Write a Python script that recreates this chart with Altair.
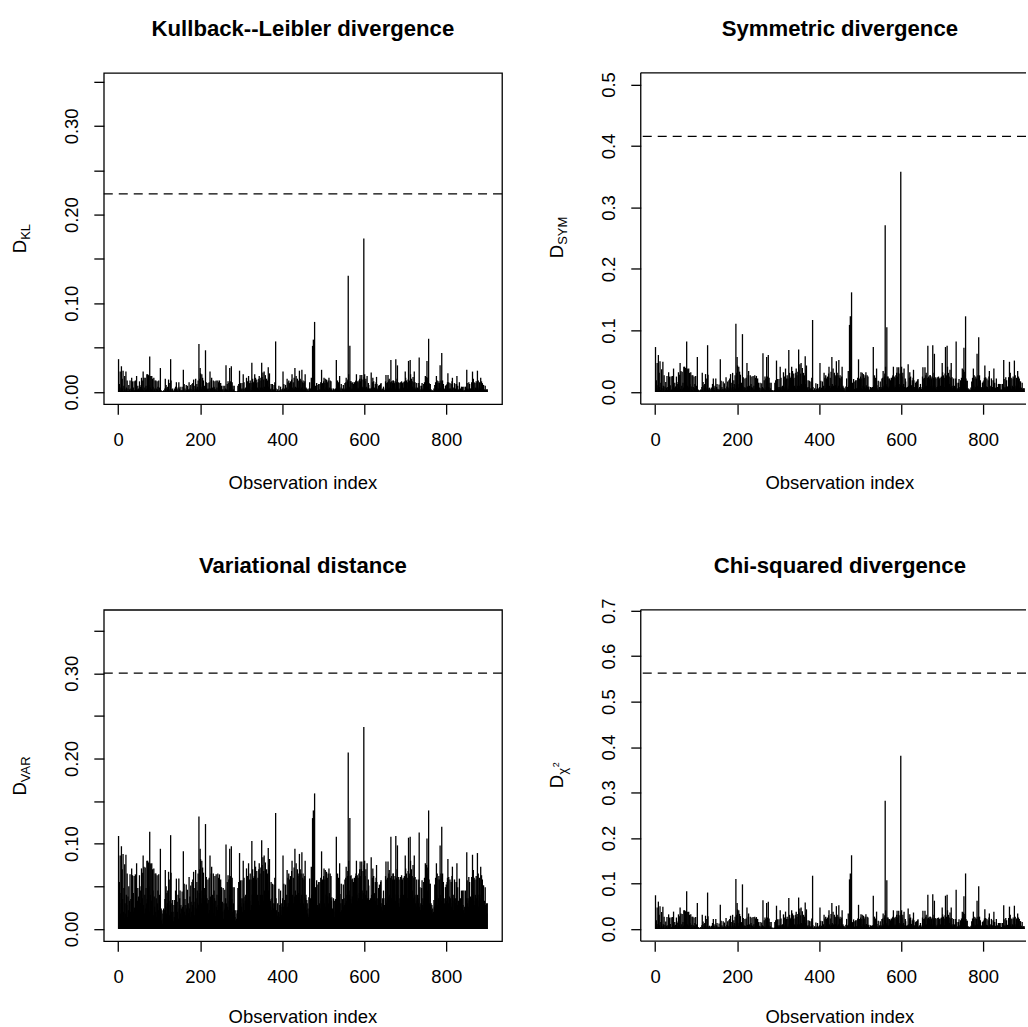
import altair as alt
import pandas as pd

# ---- data (values in thousandths) ----
KL_1000 = [
37,1,9,3,23,1,5,29,2,15, 4,24,1,7,0,18,3,1,23,5, 2,13,1,4,1,8,1,3,13,1,
4,1,16,3,12,1,5,0,12,2, 1,13,2,5,18,0,3,7,1,4, 2,12,1,6,3,8,16,1,4,13,
23,2,16,1,5,16,2,7,3,20, 4,20,2,19,8,1,40,18,5,18, 3,18,1,15,6,1,16,4,2,13,
1,13,4,1,12,3,6,1,13,1, 5,2,27,1,2,0,1,0,1,0, 2,0,1,4,15,2,8,1,5,3,
6,1,14,3,1,10,2,37,13,1, 3,0,4,1,0,2,1,4,0,6, 2,11,1,3,1,5,0,11,2,4,
6,1,2,2,1,6,2,1,25,2, 9,1,4,1,2,8,2,0,7,2, 3,1,11,2,4,1,8,3,1,9,
2,10,1,14,3,1,7,2,15,4, 2,9,6,3,13,2,54,5,15,27, 21,6,3,20,4,16,2,13,5,3,
7,2,47,5,11,1,4,3,10,1, 4,11,1,23,4,2,13,16,2,5, 3,13,1,6,4,12,1,3,13,2,
5,1,13,2,11,1,13,4,2,10, 2,7,1,3,1,7,0,3,1,7, 2,4,30,3,1,9,2,12,1,10,
3,27,5,12,2,29,4,11,1,7, 3,1,7,1,1,0,1,0,0,1, 1,7,1,9,2,24,2,10,3,4,
2,10,1,4,20,3,11,1,4,3, 5,1,16,3,12,2,4,18,2,10, 3,13,1,10,2,33,5,15,2,11,
3,12,20,4,16,1,10,14,2,5, 11,3,15,18,2,13,5,16,4,33, 17,5,22,3,14,23,6,4,19,3,
5,15,3,13,4,28,6,17,21,4, 3,2,9,1,4,9,1,3,2,8, 3,11,2,57,4,1,1,0,3,1,
1,7,1,2,1,6,2,1,3,1, 4,23,2,9,1,4,1,8,3,2, 5,15,2,11,3,13,1,10,3,12,
4,2,14,20,5,2,11,3,16,4, 27,6,3,18,5,2,15,4,13,5, 12,24,4,15,3,13,5,25,3,11,
13,3,10,2,12,20,4,5,1,4, 3,1,2,1,4,1,11,2,4,1, 16,5,3,52,6,59,20,6,79,4,
7,1,3,10,1,2,8,2,9,2, 3,9,2,11,3,25,2,10,1,4, 12,16,3,10,15,2,5,14,3,11,
4,13,3,16,5,2,13,4,12,3, 4,1,2,0,4,1,1,3,0,4, 3,36,5,2,13,3,11,1,4,18,
5,1,3,9,1,1,4,2,8,2, 4,2,10,3,11,16,3,5,12,14, 131,20,6,5,52,12,4,12,3,10,
4,11,2,9,3,11,3,10,12,13, 20,5,12,3,11,4,13,5,15,19, 12,5,15,19,6,4,14,5,173,17,
20,12,5,15,3,6,18,4,3,10, 8,2,4,1,4,3,22,5,2,11, 16,4,12,3,5,2,9,3,11,17,
9,2,4,1,7,1,8,3,2,9, 10,2,3,1,4,1,6,1,2,2, 4,12,19,3,10,3,11,19,4,13,
15,5,3,11,36,4,12,3,10,13, 13,4,2,10,12,3,37,5,11,15, 30,5,11,3,10,2,4,11,3,5,
12,4,10,2,11,5,3,12,4,23, 16,5,13,3,11,4,14,35,5,12, 13,36,20,5,15,3,12,6,17,4,
11,23,4,11,3,5,2,10,3,5, 4,3,10,39,2,7,1,3,2,7, 10,2,4,2,9,3,11,4,18,13,
15,17,35,6,16,13,60,10,3,9, 9,2,3,1,2,1,2,1,1,4, 2,8,3,11,3,18,5,13,2,10,
4,12,3,10,30,5,13,3,44,11, 13,3,9,2,4,3,1,7,2,8, 3,9,11,21,3,11,2,4,10,4,
3,9,2,12,16,3,5,1,4,10, 9,3,4,2,9,18,2,7,1,3, 2,11,3,1,4,2,6,1,2,6,
2,1,6,1,2,2,6,1,4,25, 10,3,4,2,11,3,9,2,4,3, 4,11,3,23,5,15,3,11,2,10,
5,3,12,4,10,24,3,13,2,5, 11,4,3,16,5,12,3,10,2,8, 8,2,3,1,7,2,2,3,1,3,
]

SYM_1000 = [
73,3,19,6,47,2,11,60,4,31, 8,50,3,15,1,37,6,2,49,10, 5,27,1,9,3,16,2,7,26,3,
8,1,32,6,25,3,11,1,25,4, 2,26,5,10,38,1,7,15,3,9, 4,25,2,13,6,16,32,3,8,28,
47,5,34,2,10,33,4,15,6,41, 8,41,5,39,16,3,82,38,10,37, 7,38,3,31,13,2,32,9,4,27,
3,27,8,1,25,6,13,3,26,2, 10,4,57,3,4,1,3,0,2,1, 4,0,3,8,31,4,16,2,11,6,
13,3,29,7,2,22,5,76,28,3, 6,1,7,3,1,5,1,7,1,13, 4,22,2,7,3,10,1,22,4,8,
13,2,5,4,1,12,4,3,53,5, 18,3,8,2,5,17,4,1,14,4, 6,2,24,4,9,1,17,7,3,19,
5,22,3,29,7,2,15,4,31,8, 4,19,13,6,27,5,111,11,31,57, 43,13,6,41,8,33,4,28,10,7,
15,5,94,10,24,3,8,6,22,2, 7,23,3,47,9,4,27,34,4,10, 6,27,2,13,8,25,1,7,26,4,
10,3,27,5,23,2,26,8,4,22, 4,15,1,7,3,15,1,6,3,14, 4,8,63,6,2,19,4,25,3,22,
7,57,10,25,4,60,8,23,3,15, 6,2,15,3,1,1,3,0,1,2, 3,15,2,19,5,51,4,21,6,8,
4,21,3,8,41,6,23,3,9,7, 10,2,32,6,25,4,8,38,4,22, 7,27,3,22,5,68,10,31,4,23,
6,25,41,8,34,3,22,30,4,10, 23,7,31,38,5,27,10,33,8,69, 36,10,45,7,30,47,13,8,39,6,
11,31,6,27,9,58,13,36,43,8, 7,4,19,3,8,18,2,6,4,17, 6,23,4,117,8,3,2,1,6,1,
3,14,1,5,2,13,4,2,6,3, 8,47,4,18,3,7,2,17,6,4, 10,31,4,23,6,27,3,22,7,25,
8,5,30,41,10,4,23,6,33,9, 57,13,7,38,10,4,31,8,27,11, 25,50,8,31,6,27,10,52,7,23,
27,6,22,4,25,41,8,10,3,7, 6,2,4,1,9,2,22,4,8,3, 34,10,7,109,13,123,41,13,162,8,
15,3,6,21,2,5,17,4,19,4, 6,19,4,23,7,53,5,22,3,8, 25,32,6,22,31,4,10,29,7,23,
9,27,6,32,11,4,27,8,25,7, 9,2,4,1,8,3,1,7,1,8, 6,73,10,4,27,7,23,3,9,38,
11,3,6,18,3,2,8,4,17,4, 8,5,22,6,23,34,7,10,25,30, 271,41,13,10,105,25,8,25,6,22,
9,22,4,19,7,23,6,22,25,27, 41,10,25,7,23,8,27,11,31,40, 25,10,31,40,13,8,30,11,358,36,
41,25,10,31,7,13,38,8,6,22, 17,4,7,3,8,6,45,10,5,23, 32,8,25,6,11,4,19,7,23,36,
19,5,8,3,15,2,17,6,4,19, 21,4,6,2,8,3,13,2,5,4, 8,25,40,6,22,7,23,40,9,27,
31,10,7,23,75,8,25,6,22,27, 27,9,4,22,25,7,76,10,23,31, 62,10,24,6,22,4,8,24,7,10,
25,8,22,5,23,10,7,25,9,47, 32,10,27,7,23,8,30,73,11,25, 27,75,41,10,31,7,25,13,36,8,
23,47,9,24,6,10,4,22,7,10, 8,6,22,82,4,15,3,6,5,15, 21,5,8,4,19,7,23,9,38,27,
31,36,72,13,33,27,123,22,6,18, 18,4,6,3,5,2,4,2,3,7, 4,17,6,23,7,38,10,27,5,22,
8,25,6,22,62,10,27,7,89,23, 27,7,19,4,8,6,3,15,5,17, 7,19,23,43,6,24,4,9,22,8,
6,19,4,25,34,7,10,3,8,22, 19,6,8,4,19,38,5,15,3,7, 4,22,6,3,8,5,13,2,4,13,
5,3,13,2,4,4,13,3,8,52, 21,6,8,4,24,7,19,4,9,6, 8,24,6,49,10,31,7,23,5,22,
10,6,25,8,22,51,7,27,4,10, 23,8,6,34,10,25,7,22,5,17, 17,4,7,3,15,5,4,6,2,6,
]

VAR_1000 = [
109,22,55,30,86,18,42,97,25,70, 35,88,20,48,12,76,30,18,87,40, 28,65,14,38,22,50,16,33,64,20,
35,15,71,30,63,20,42,10,62,25, 18,64,28,40,77,12,33,48,22,38, 25,63,16,45,30,50,71,20,36,66,
86,28,73,18,40,72,24,48,30,80, 35,80,28,78,50,20,114,77,40,76, 33,77,22,70,45,16,71,38,26,65,
20,65,36,14,63,30,45,22,64,18, 40,26,94,20,24,10,22,6,18,12, 24,8,22,35,69,26,50,18,42,30,
45,22,67,33,16,58,28,110,66,20, 30,12,34,20,9,28,14,34,11,45, 25,59,16,32,20,40,12,59,24,36,
45,18,28,24,14,44,26,20,91,28, 53,20,35,16,28,52,24,12,46,26, 30,18,61,24,38,14,51,32,20,55,
28,58,20,67,32,16,48,25,69,36, 24,55,45,30,65,28,132,42,70,94, 82,45,30,80,36,72,25,66,40,33,
48,28,123,40,61,22,36,30,58,18, 34,60,22,86,38,26,65,73,24,40, 30,65,18,45,36,62,15,33,64,26,
40,22,65,28,60,16,64,36,24,58, 26,49,14,32,20,48,12,30,22,46, 24,36,99,30,18,55,26,63,22,58,
33,94,40,62,26,97,35,60,20,49, 30,18,49,22,14,10,22,8,12,18, 22,48,18,55,28,89,24,57,30,36,
26,57,20,36,80,30,60,22,38,33, 40,18,71,30,62,24,36,77,26,58, 33,65,22,58,28,103,40,70,24,60,
30,62,80,36,73,22,58,68,26,40, 60,33,70,77,28,65,40,72,35,104, 75,40,84,33,68,86,45,36,78,30,
42,70,30,65,38,95,45,75,82,35, 33,26,55,22,36,53,18,30,24,52, 30,60,26,136,36,22,16,12,30,15,
20,47,14,28,18,45,26,16,30,22, 36,86,26,53,22,34,18,52,30,24, 40,69,26,60,30,65,22,58,33,62,
36,28,68,80,40,24,60,30,72,38, 94,45,33,77,40,26,70,35,65,42, 62,88,35,70,30,65,40,90,33,60,
65,30,58,26,62,80,36,40,22,34, 30,18,24,14,37,16,59,26,36,22, 73,40,33,130,45,139,80,45,159,35,
49,22,30,57,18,28,52,24,55,26, 30,55,24,60,33,91,28,58,22,36, 62,71,30,58,69,26,40,67,33,60,
38,65,30,71,42,26,65,36,62,33, 37,18,24,12,36,20,14,33,10,35, 30,108,40,26,65,33,60,22,38,77,
41,20,30,53,22,16,35,26,52,24, 36,28,58,30,60,73,33,40,62,68, 207,80,45,40,130,62,35,63,30,58,
38,59,26,55,33,60,30,58,62,65, 80,40,63,33,60,36,65,42,70,79, 62,40,70,79,45,35,68,42,237,75,
80,62,40,70,33,45,77,36,30,58, 51,26,34,22,36,30,84,40,28,60, 71,36,62,30,42,26,55,33,60,75,
55,28,36,22,48,18,52,30,24,55, 57,26,30,18,36,22,45,16,28,24, 36,62,79,30,58,33,60,79,38,65,
69,40,33,60,108,36,62,30,58,65, 65,38,26,58,62,33,109,40,60,70, 98,40,61,30,58,26,36,61,33,40,
63,36,58,28,60,40,33,62,38,86, 71,40,65,33,60,36,68,107,42,62, 65,108,80,40,70,33,62,45,75,36,
60,86,38,61,30,40,26,58,33,40, 36,30,58,113,26,49,22,30,28,48, 57,28,36,24,55,33,60,38,77,65,
70,75,106,45,72,65,139,58,30,53, 53,26,30,22,28,18,24,16,20,34, 26,52,30,60,33,77,40,65,28,58,
36,62,30,58,98,40,65,33,120,60, 65,33,55,26,36,30,22,49,28,52, 33,55,60,82,30,61,26,38,58,36,
30,55,26,62,73,33,40,22,36,58, 55,30,36,24,55,77,28,49,22,33, 26,59,30,22,36,28,45,18,24,45,
28,22,45,18,26,24,45,20,36,90, 57,30,36,26,61,33,55,24,38,30, 36,61,30,87,40,69,33,60,28,58,
40,30,62,36,58,89,33,65,26,40, 60,36,30,73,40,63,33,58,28,51, 51,26,33,22,49,28,24,30,18,30,
]

CHI_1000 = [
74,3,19,6,47,2,11,60,4,31, 8,50,3,15,1,37,6,2,49,10, 5,27,1,9,3,16,2,7,26,3,
8,1,32,6,25,3,11,1,25,4, 2,26,5,10,38,1,7,15,3,9, 4,25,2,13,6,16,32,3,8,28,
47,5,34,2,10,33,4,15,6,41, 8,41,5,39,16,3,83,38,10,37, 7,38,3,31,13,2,32,9,4,27,
3,27,8,1,25,6,13,3,26,2, 10,4,57,3,4,1,3,0,2,1, 4,0,3,8,31,4,16,2,11,6,
13,3,29,7,2,22,5,80,28,3, 6,1,7,3,1,5,1,7,1,13, 4,22,2,7,3,10,1,22,4,8,
13,2,5,4,1,12,4,3,53,5, 18,3,8,2,5,17,4,1,14,4, 6,2,24,4,9,1,17,7,3,19,
5,22,3,29,7,2,15,4,31,8, 4,19,13,6,27,5,110,11,31,57, 43,13,6,41,8,33,4,28,10,7,
15,5,98,10,24,3,8,6,22,2, 7,23,3,47,9,4,27,34,4,10, 6,27,2,13,8,25,1,7,26,4,
10,3,27,5,23,2,26,8,4,22, 4,15,1,7,3,15,1,6,3,14, 4,8,63,6,2,19,4,25,3,22,
7,57,10,25,4,60,8,23,3,15, 6,2,15,3,1,1,3,0,1,2, 3,15,2,19,5,51,4,21,6,8,
4,21,3,8,41,6,23,3,9,7, 10,2,32,6,25,4,8,38,4,22, 7,27,3,22,5,68,10,31,4,23,
6,25,41,8,34,3,22,30,4,10, 23,7,31,38,5,27,10,33,8,69, 36,10,45,7,30,47,13,8,39,6,
11,31,6,27,9,58,13,36,43,8, 7,4,19,3,8,18,2,6,4,17, 6,23,4,117,8,3,2,1,6,1,
3,14,1,5,2,13,4,2,6,3, 8,47,4,18,3,7,2,17,6,4, 10,31,4,23,6,27,3,22,7,25,
8,5,30,41,10,4,23,6,33,9, 57,13,7,38,10,4,31,8,27,11, 25,50,8,31,6,27,10,52,7,23,
27,6,22,4,25,41,8,10,3,7, 6,2,4,1,9,2,22,4,8,3, 34,10,7,109,13,122,41,13,162,8,
15,3,6,21,2,5,17,4,19,4, 6,19,4,23,7,53,5,22,3,8, 25,32,6,22,31,4,10,29,7,23,
9,27,6,32,11,4,27,8,25,7, 9,2,4,1,8,3,1,7,1,8, 6,73,10,4,27,7,23,3,9,38,
11,3,6,18,3,2,8,4,17,4, 8,5,22,6,23,34,7,10,25,30, 282,41,13,10,107,25,8,25,6,22,
9,22,4,19,7,23,6,22,25,27, 41,10,25,7,23,8,27,11,31,40, 25,10,31,40,13,8,30,11,381,36,
41,25,10,31,7,13,38,8,6,22, 17,4,7,3,8,6,45,10,5,23, 32,8,25,6,11,4,19,7,23,36,
19,5,8,3,15,2,17,6,4,19, 21,4,6,2,8,3,13,2,5,4, 8,25,40,6,22,7,23,40,9,27,
31,10,7,23,75,8,25,6,22,27, 27,9,4,22,25,7,76,10,23,31, 62,10,24,6,22,4,8,24,7,10,
25,8,22,5,23,10,7,25,9,47, 32,10,27,7,23,8,30,73,11,25, 27,75,41,10,31,7,25,13,36,8,
23,47,9,24,6,10,4,22,7,10, 8,6,22,86,4,15,3,6,5,15, 21,5,8,4,19,7,23,9,38,27,
31,36,72,13,33,27,122,22,6,18, 18,4,6,3,5,2,4,2,3,7, 4,17,6,23,7,38,10,27,5,22,
8,25,6,22,62,10,27,7,94,23, 27,7,19,4,8,6,3,15,5,17, 7,19,23,43,6,24,4,9,22,8,
6,19,4,25,34,7,10,3,8,22, 19,6,8,4,19,38,5,15,3,7, 4,22,6,3,8,5,13,2,4,13,
5,3,13,2,4,4,13,3,8,52, 21,6,8,4,24,7,19,4,9,6, 8,24,6,49,10,31,7,23,5,22,
10,6,25,8,22,51,7,27,4,10, 23,8,6,34,10,25,7,22,5,17, 17,4,7,3,15,5,4,6,2,6,
]

THRESHOLDS = [0.2233, 0.4156, 0.300, 0.5625]
TITLES = ["Kullback--Leibler divergence", "Symmetric divergence",
          "Variational distance", "Chi-squared divergence"]
SUBSCRIPTS = ["KL", "SYM", "VAR", "\u03c7"]
X_LABEL = "Observation index"
X_TICKS = [0, 200, 400, 600, 800]
Y_TICKS_A = [0, 0.05, 0.10, 0.15, 0.20, 0.25, 0.30, 0.35]
Y_LABELS_A = ["0.00", "0.10", "0.20", "0.30"]
Y_TICKS_SYM = [0, 0.1, 0.2, 0.3, 0.4, 0.5]
Y_TICKS_CHI = [0, 0.1, 0.2, 0.3, 0.4, 0.5, 0.6, 0.7]

# ---- layout / style ----
W, H = 399, 332
W_RIGHT = 386            # right column is cut by the image edge
X_MIN, X_SPAN = -34.96, 970.92
FONT = "Liberation Sans"
FS = 18.5
FS_SUB = 13
FS_TITLE = 22.2
LW = 1.3
SUB_LEN = {"KL": 15.9, "SYM": 26.0, "VAR": 26.7, "\u03c7": 12.0}


def text_layer(txt, x, y, size, angle=0, align="center", weight="normal"):
    kw = dict(align=align, baseline="alphabetic", fontSize=size, font=FONT,
              fontWeight=weight, color="black")
    if angle:
        kw["angle"] = angle
    return alt.Chart(pd.DataFrame({"t": [txt]})).mark_text(**kw).encode(
        x=alt.value(x), y=alt.value(y), text="t:N")


def frame_rule(x, x2, y, y2):
    return alt.Chart(pd.DataFrame({"f": [0]})).mark_rule(
        color="black", strokeWidth=LW).encode(
        x=alt.value(x), x2=alt.value(x2), y=alt.value(y), y2=alt.value(y2))


def panel(vals, title, sub, thr, ydom, yticks, yfmt, keep=None,
          width=W, anchor=False, xtitle_gap=85, open_right=False):
    df = pd.DataFrame({"i": list(range(1, len(vals) + 1)),
                       "v": [v / 1000 for v in vals]})
    xs = alt.Scale(domain=[X_MIN, X_MIN + X_SPAN * width / W], nice=False, zero=False)
    ys = alt.Scale(domain=ydom, nice=False, zero=False)
    xaxis = alt.Axis(values=X_TICKS, title=None, format="d", labelAngle=0)
    yargs = dict(values=yticks, title=None, format=yfmt, labelAngle=270,
                 labelAlign="center", labelBaseline="alphabetic")
    if keep:
        yargs["labelExpr"] = ("indexof([" + ",".join("'%s'" % k for k in keep)
                              + "], datum.label) >= 0 ? datum.label : ''")
    spikes = alt.Chart(df).mark_rule(color="black", strokeWidth=LW).encode(
        x=alt.X("i:Q", scale=xs, axis=xaxis),
        y=alt.Y("v:Q", scale=ys, axis=alt.Axis(**yargs)),
        y2=alt.datum(0))
    thr_rule = alt.Chart(pd.DataFrame({"t": [thr]})).mark_rule(
        color="black", strokeWidth=LW, strokeDash=[9, 6]).encode(
        y=alt.datum(thr))
    layers = [spikes, thr_rule,
              text_layer(title, W / 2, -37, FS_TITLE, weight="bold"),
              text_layer(X_LABEL, W / 2, H + xtitle_gap, FS)]
    d_len = 0.722 * FS
    total = d_len + SUB_LEN[sub]
    start = H / 2 + total / 2
    bx = -78
    layers.append(text_layer("D", bx, start, FS, angle=270, align="left"))
    layers.append(text_layer(sub, bx + 4, start - d_len, FS_SUB, angle=270, align="left"))
    if sub == "\u03c7":
        layers.append(text_layer("2", bx - 4, start - d_len - 7.5, 9, angle=270, align="left"))
    if open_right:
        layers += [frame_rule(0, width, 0, 0), frame_rule(0, width, H, H),
                   frame_rule(0, 0, 0, H)]
    if anchor:
        layers.append(alt.Chart(pd.DataFrame({"a": [0]})).mark_rule(
            opacity=0, strokeWidth=0.1).encode(
            x=alt.value(-103), x2=alt.value(-102), y=alt.value(-71)))
    ch = alt.layer(*layers).properties(width=width, height=H)
    if open_right:
        ch = ch.properties(view=alt.ViewBackground(stroke="transparent"))
    return ch


p1 = panel(KL_1000, TITLES[0], SUBSCRIPTS[0], THRESHOLDS[0], [-0.0138, 0.3598],
           Y_TICKS_A, ".2f", Y_LABELS_A, anchor=True)
p2 = panel(SYM_1000, TITLES[1], SUBSCRIPTS[1], THRESHOLDS[1], [-0.02, 0.519],
           Y_TICKS_SYM, ".1f", width=W_RIGHT, open_right=True)
p3 = panel(VAR_1000, TITLES[2], SUBSCRIPTS[2], THRESHOLDS[2], [-0.0144, 0.3744],
           Y_TICKS_A, ".2f", Y_LABELS_A, xtitle_gap=82)
p4 = panel(CHI_1000, TITLES[3], SUBSCRIPTS[3], THRESHOLDS[3], [-0.027, 0.702],
           Y_TICKS_CHI, ".1f", width=W_RIGHT, open_right=True, xtitle_gap=82)

chart = alt.concat(p1, p2, p3, p4, columns=2,
                   spacing={"row": 206, "column": 139}, bounds="flush").properties(
    padding=0, background="white"
).configure_view(stroke="black", strokeWidth=LW
).configure_axis(
    grid=False, domain=False, ticks=True, tickSize=10, tickWidth=LW,
    tickColor="black", labelFont=FONT, labelFontSize=FS, labelColor="black",
    labelPadding=16, labelFlush=False, labelOverlap=False
)

chart.save("out.html", embed_options={"renderer": "svg", "actions": False})
